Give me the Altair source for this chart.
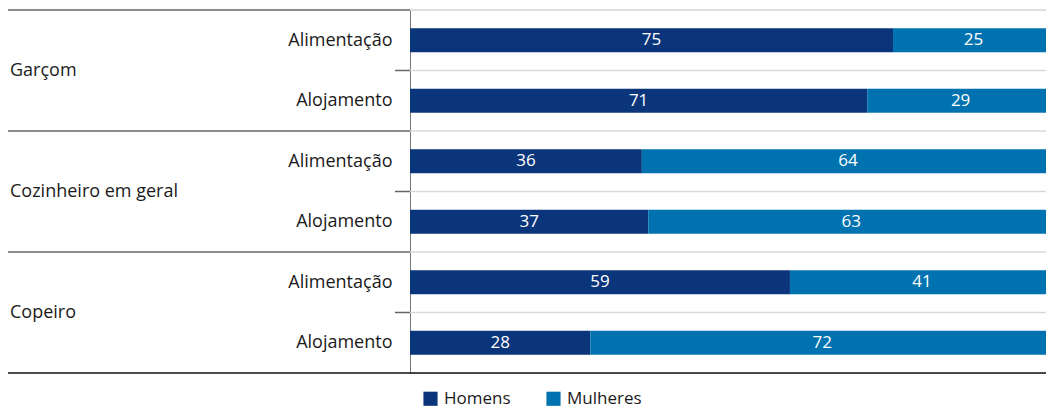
import altair as alt
import pandas as pd

groups = ["Garçom", "Cozinheiro em geral", "Copeiro"]
sectors = ["Alimentação", "Alojamento"]
homens = [75, 71, 36, 37, 59, 28]
mulheres = [25, 29, 64, 63, 41, 72]
series = ["Homens", "Mulheres"]
colors = ["#0b357a", "#0072b0"]

rows = []
for i, (h, m) in enumerate(zip(homens, mulheres)):
    rows.append({"row": i, "group": groups[i // 2], "sector": sectors[i % 2],
                 "Homens": h, "Mulheres": m})
df = pd.DataFrame(rows)

W, H = 636, 363      # visible plot area (page limits)
FULL_W = 644         # scale range of the full 0-100 axis
FONT = "Open Sans"
TXT = "#1a1a1a"
FS = 18
nrows = len(homens)

yscale = alt.Scale(domain=[0, nrows], reverse=True, nice=False, zero=False)
xscale = alt.Scale(domain=[0, 100], range=[0, FULL_W], nice=False)

sector_arr = "[" + ",".join("'%s'" % s for s in sectors) + "]"
yaxis = alt.Axis(values=[r + 0.5 for r in range(nrows)],
                 labelExpr=sector_arr + "[floor(datum.value) % 2]",
                 ticks=False, grid=False, domain=True, domainColor="#777777",
                 domainWidth=1, labelPadding=18, labelFontSize=FS, labelFont=FONT,
                 labelColor=TXT, title=None, labelOverlap=False)

base = (alt.Chart(df)
        .transform_fold(series, as_=["sex", "value"])
        .transform_calculate(yc="datum.row + 0.5",
                             yt="datum.row + 0.3",
                             yb="datum.row + 0.7")
        .transform_stack(stack="value", groupby=["row"], as_=["x0", "x1"],
                         sort=[alt.SortField("sex")]))

# light gridlines at row boundaries
grid = alt.Chart(pd.DataFrame({"y": list(range(nrows))})).mark_rule(
    color="#d9d9d9", strokeWidth=1.5).encode(
    y=alt.Y("y:Q", scale=yscale, axis=yaxis), x=alt.value(0), x2=alt.value(FULL_W))

bars = base.mark_bar().encode(
    x=alt.X("x0:Q", scale=xscale, axis=None),
    x2="x1:Q",
    y=alt.Y("yt:Q", scale=yscale),
    y2="yb:Q",
    color=alt.Color("sex:N", scale=alt.Scale(domain=series, range=colors),
                    legend=alt.Legend(title=None, orient="none", legendX=12, legendY=380,
                                      direction="horizontal", symbolType="square",
                                      symbolSize=200, symbolStrokeWidth=0,
                                      labelFontSize=17, labelFont=FONT, labelColor=TXT,
                                      columnPadding=34, labelOffset=5)),
)

labels = base.transform_calculate(xm="(datum.x0 + datum.x1) / 2").mark_text(
    color="white", fontSize=17, font=FONT, baseline="middle").encode(
    x=alt.X("xm:Q", scale=xscale),
    y=alt.Y("yc:Q", scale=yscale),
    text="value:Q")

gdf = pd.DataFrame({"group": groups, "yg": [2 * g + 1 for g in range(len(groups))],
                    "ysep": [2 * g for g in range(len(groups))]})

group_text = alt.Chart(gdf).mark_text(
    align="left", baseline="middle", fontSize=FS, font=FONT, color=TXT).encode(
    x=alt.value(-400), y=alt.Y("yg:Q", scale=yscale), text="group:N")

group_sep = alt.Chart(gdf).mark_rule(color="#666666", strokeWidth=1.5).encode(
    y=alt.Y("ysep:Q", scale=yscale), x=alt.value(-402), x2=alt.value(0))

group_tick = alt.Chart(gdf).mark_rule(color="#666666", strokeWidth=1.5).encode(
    y=alt.Y("yg:Q", scale=yscale), x=alt.value(-15), x2=alt.value(0))

bottom = alt.Chart(pd.DataFrame({"y": [nrows]})).mark_rule(
    color="#111111", strokeWidth=1.5).encode(
    y=alt.Y("y:Q", scale=yscale), x=alt.value(-402), x2=alt.value(FULL_W))

chart = alt.layer(grid, group_sep, group_tick, bars, labels, group_text, bottom).properties(
    width=W, height=H,
    autosize=alt.AutoSizeParams(type="none"),
    padding={"left": 402, "top": 2, "right": 0, "bottom": 38},
).configure_view(stroke=None).configure(font=FONT)

chart.save("out.html", embed_options={"renderer": "svg", "actions": False})
